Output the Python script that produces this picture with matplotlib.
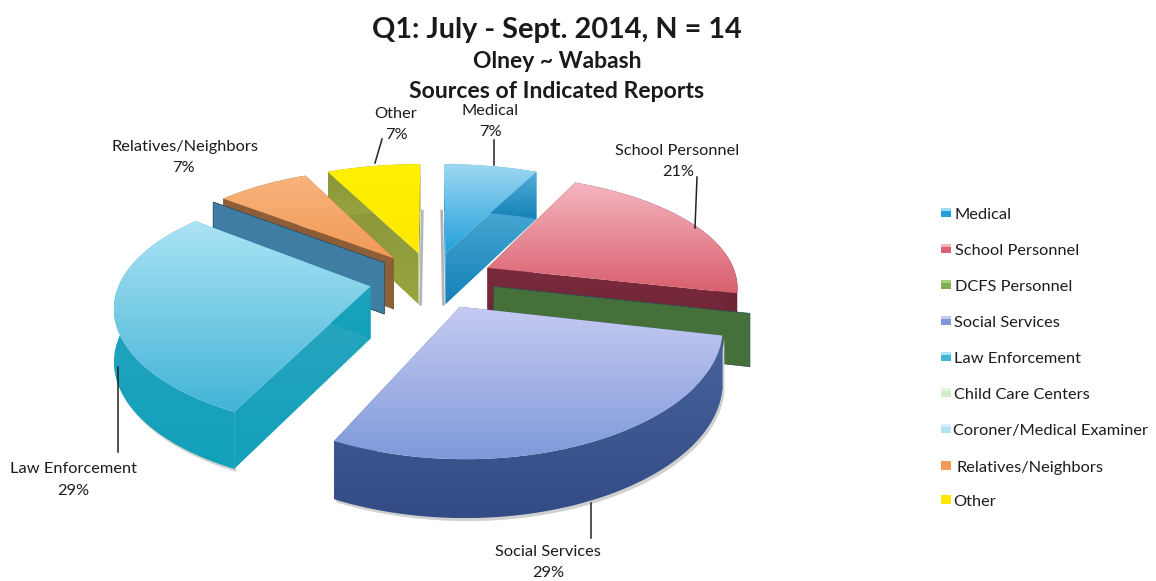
import numpy as np
import matplotlib
matplotlib.use('Agg')
import matplotlib.pyplot as plt
from matplotlib.colors import LinearSegmentedColormap
from matplotlib.patches import Polygon, Rectangle

plt.rcParams['font.family'] = ['Lato', 'DejaVu Sans']

# counts of reports, N = 14
sources = ['Medical', 'School Personnel', 'DCFS Personnel', 'Social Services', 'Law Enforcement',
           'Child Care Centers', 'Coroner/Medical Examiner', 'Relatives/Neighbors', 'Other']
counts = [1, 3, 0, 4, 4, 0, 0, 1, 1]

# top light, top dark, side light, side dark
shades = {
    'Medical': ('#9ed8f2', '#23a0da', '#5db4dc', '#1482b8'),
    'School Personnel': ('#f5b6bf', '#d9606e', '#7a2a3c', '#6c2434'),
    'DCFS Personnel': ('#a8cf78', '#7fae50', '#54803f', '#45703a'),
    'Social Services': ('#c6caf2', '#7f9ada', '#46629c', '#344c86'),
    'Law Enforcement': ('#aae3f5', '#42b4d6', '#2ba6bf', '#12a0bb'),
    'Child Care Centers': ('#e2f4dc', '#d0ecc8', '#d0ecc8', '#c0e0b8'),
    'Coroner/Medical Examiner': ('#d5f0fa', '#b5e2f2', '#44789c', '#3f7ea2'),
    'Relatives/Neighbors': ('#f8b47c', '#f29a58', '#8d5a36', '#8d6238'),
    'Other': ('#fff100', '#ffe800', '#87913a', '#98a63e'),
}

# back to front
draw_order = ['Other', 'Medical', 'Relatives/Neighbors', 'Child Care Centers', 'Coroner/Medical Examiner',
              'School Personnel', 'DCFS Personnel', 'Law Enforcement', 'Social Services']

# pie projection, fitted by eye to the tilted perspective
CX, CY = 432, 280
SX, SY = 250, 114
PERSP_X = 0.15
PERSP_Y = 0.18
DEPTH = 52
EXPLODE = 0.25

# soft shadows seen in the scan
wall_shadow = {'Social Services': (2, 3), 'Law Enforcement': (2, 3)}
edge_shadow = {'Medical': -2, 'Other': 2}


def project(x, y, low=0.0):
    wx = 1 + PERSP_X * y
    wy = 1 + PERSP_Y * y
    return np.column_stack([CX + SX * x / wx, CY - SY * y / wy + low * DEPTH / np.sqrt(wy)])


def grad_poly(ax, pts, c1, c2, z):
    cmap = LinearSegmentedColormap.from_list('g', [c1, c2])
    y0, y1 = pts[:, 1].min(), pts[:, 1].max()
    x0, x1 = pts[:, 0].min(), pts[:, 0].max()
    im = ax.imshow(np.linspace(0, 1, 64).reshape(-1, 1), cmap=cmap, aspect='auto',
                   extent=(x0, x1, y1, y0), zorder=z)
    patch = Polygon(pts, closed=True, transform=ax.transData, fc='none', ec='none')
    ax.add_patch(patch)
    im.set_clip_path(patch)


fig = plt.figure(figsize=(11.56, 5.81), dpi=100)
ax = fig.add_axes([0, 0, 1, 1])

fractions = np.array(counts) / sum(counts)
edges = np.concatenate([[0], np.cumsum(fractions)]) * 2 * np.pi
spans = {s: (edges[i], edges[i + 1]) for i, s in enumerate(sources)}

z = 2
for name in draw_order:
    a0, a1 = spans[name]
    top1, top2, side1, side2 = shades[name]
    mid = (a0 + a1) / 2
    ox, oy = EXPLODE * np.sin(mid), EXPLODE * np.cos(mid)

    if a1 - a0 < 1e-6:
        # empty slice only shows as a flat cut plane
        rx = np.array([ox, ox + np.sin(a0)])
        ry = np.array([oy, oy + np.cos(a0)])
        face = np.vstack([project(rx, ry), project(rx[::-1], ry[::-1], 1)])
        ax.add_patch(Polygon(face, closed=True, fc=side2, ec='#2c4a5c', lw=0.5, zorder=z))
        z += 1
        continue

    t = np.linspace(a0, a1, 80)
    ax_x = ox + np.sin(t)
    ax_y = oy + np.cos(t)
    ap_x, ap_y = np.array([ox]), np.array([oy])
    wall = np.vstack([project(ax_x, ax_y), project(ax_x[::-1], ax_y[::-1], 1)])

    if name in wall_shadow:
        ax.add_patch(Polygon(wall + wall_shadow[name], closed=True, fc='#d0d0d0', ec='none', zorder=z))
        z += 1
    if name in edge_shadow:
        # the vertical cut is seen edge on, only its foot shows
        cut = a0 if name == 'Medical' else a1
        foot = project(np.array([ox + np.sin(cut), ox]), np.array([oy + np.cos(cut), oy]), 1)
        ax.plot(foot[:, 0] + edge_shadow[name], foot[:, 1], color='#b4b4b8', lw=2, zorder=z)
        z += 1

    # cut faces
    for cut in (a0, a1):
        rx = np.array([ox, ox + np.sin(cut)])
        ry = np.array([oy, oy + np.cos(cut)])
        face = np.vstack([project(rx, ry), project(rx[::-1], ry[::-1], 1)])
        grad_poly(ax, face, side1, side2, z)
        z += 1

    # outer wall
    grad_poly(ax, wall, side1, side2, z)
    z += 1

    # top
    top = np.vstack([project(ap_x, ap_y), project(ax_x, ax_y)])
    grad_poly(ax, top, top1, top2, z)
    z += 1

ax.set_xlim(0, 1156)
ax.set_ylim(581, 0)
ax.axis('off')

# title
ax.text(557, 30, 'Q1: July - Sept. 2014, N = 14', ha='center', va='center', fontsize=20.8, fontweight='bold', color='#1a1a1a', zorder=60)
ax.text(557, 61, 'Olney ~ Wabash', ha='center', va='center', fontsize=16.5, fontweight='bold', color='#1a1a1a', zorder=60)
ax.text(557, 91, 'Sources of Indicated Reports', ha='center', va='center', fontsize=16.6, fontweight='bold', color='#1a1a1a', zorder=60)

# data labels: name position, percent position, leader line
pct = {s: '%d%%' % round(100 * c / sum(counts)) for s, c in zip(sources, counts)}
callouts = [
    ('Medical', (490, 111), (490, 132), [(494, 140), (494, 165)]),
    ('School Personnel', (677, 151), (678, 172), [(697, 177), (695, 228)]),
    ('Social Services', (548, 552), (548, 573), [(591, 503), (591, 538)]),
    ('Law Enforcement', (73, 469), (73, 491), [(118, 367), (118, 452)]),
    ('Relatives/Neighbors', (185, 147), (183, 168), None),
    ('Other', (396, 114), (396, 135), [(375, 163), (382, 139)]),
]
for name, p1, p2, leader in callouts:
    ax.text(p1[0], p1[1], name, ha='center', va='center', fontsize=11.8, color='#1c1c1c', zorder=60)
    ax.text(p2[0], p2[1], pct[name], ha='center', va='center', fontsize=11.8, color='#1c1c1c', zorder=60)
    if leader:
        ax.plot([leader[0][0], leader[1][0]], [leader[0][1], leader[1][1]], color='#222222', lw=1.1, zorder=60)

# legend
legend_y = [215, 251, 287, 323, 359, 395, 431, 468, 502]
legend_x = [955, 955, 955, 954, 954, 954, 953, 957, 953]
for name, y, x in zip(sources, legend_y, legend_x):
    c1, c2 = shades[name][0], shades[name][1]
    if name in ('Relatives/Neighbors', 'Other'):
        c1 = c2
    ax.add_patch(Rectangle((941, y - 7), 10, 9, fc=c2, ec='none', zorder=60))
    ax.add_patch(Rectangle((941, y - 7), 10, 3, fc=c1, ec='none', zorder=61))
    ax.text(x, y, name, ha='left', va='center', fontsize=11.8, color='#1c1c1c', zorder=60)

fig.savefig('out.png', dpi=100)
